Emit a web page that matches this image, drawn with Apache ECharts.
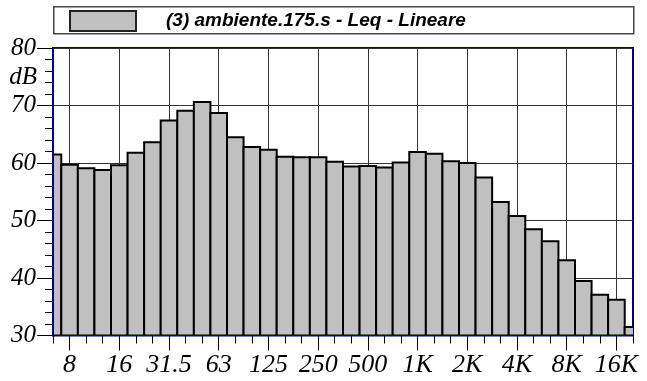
<!DOCTYPE html>
<html>
<head>
<meta charset="utf-8">
<script src="https://cdn.jsdelivr.net/npm/echarts@6/dist/echarts.min.js"></script>
<style>
html,body{margin:0;padding:0;background:#fff;}
#chart{width:647px;height:381px;}
</style>
</head>
<body>
<div id="chart"></div>
<script>
// Third-octave band centres (Hz)
var bands = ['6.3','8','10','12.5','16','20','25','31.5','40','50','63','80','100','125','160','200','250','315','400','500','630','800','1K','1.25K','1.6K','2K','2.5K','3.15K','4K','5K','6.3K','8K','10K','12.5K','16K','20K'];
// Leq levels (dB) per band
var levels = [61.5, 59.7, 59.1, 58.8, 59.6, 61.8, 63.6, 67.4, 69.1, 70.6, 68.7, 64.5, 62.8, 62.3, 61.1, 61.0, 61.0, 60.2, 59.4, 59.5, 59.2, 60.1, 61.9, 61.6, 60.3, 60.0, 57.5, 53.2, 50.8, 48.5, 46.4, 43.1, 39.5, 37.1, 36.2, 31.5];
// Labelled (octave) bands
var octaveLabels = ['8','16','31.5','63','125','250','500','1K','2K','4K','8K','16K'];
var yTicks = [30, 40, 50, 60, 70, 80];
var seriesName = '(3) ambiente.175.s - Leq - Lineare';

var yMin = yTicks[0], yMax = yTicks[yTicks.length - 1];
function isOctave(idx) { return octaveLabels.indexOf(bands[idx]) >= 0; }

var chart = echarts.init(document.getElementById('chart'), null, {renderer: 'canvas'});
var gridRect = {left: 53, right: 14, top: 48, bottom: 45.5};
var serif = 'Times New Roman';

chart.setOption({
  animation: false,
  backgroundColor: '#fff',
  grid: [
    Object.assign({show: true, borderColor: '#000080', borderWidth: 2, backgroundColor: 'transparent'}, gridRect),
    Object.assign({show: false}, gridRect)
  ],
  legend: {
    left: 69, top: 10, padding: 0,
    itemWidth: 66, itemHeight: 20,
    data: [{name: seriesName, icon: 'rect', itemStyle: {color: '#c0c0c0', borderColor: '#222', borderWidth: 2}}],
    textStyle: {fontFamily: 'Liberation Sans', fontWeight: 'bold', fontStyle: 'italic', fontSize: 19, color: '#000', padding: [0, 0, 0, 25]}
  },
  graphic: [
    {type: 'rect', left: 53, top: 6, z: -1, shape: {width: 580, height: 27}, style: {fill: '#fff', stroke: '#444', lineWidth: 1.5}},
    {type: 'text', right: 647 - 37, top: 65, style: {text: 'dB', font: 'italic 25px "Times New Roman"', fill: '#000'}}
  ],
  xAxis: [
    {
      gridIndex: 0, type: 'category', data: bands, boundaryGap: false,
      axisLine: {show: false},
      axisTick: {show: true, interval: function (i) { return isOctave(i); }, length: 15, lineStyle: {color: '#000', width: 1}},
      axisLabel: {show: true, interval: function (i) { return isOctave(i); }, margin: 17,
        fontFamily: serif, fontStyle: 'italic', fontSize: 26, color: '#000'},
      splitLine: {show: true, interval: function (i) { return isOctave(i); }, lineStyle: {color: '#333', width: 1}}
    },
    {
      gridIndex: 1, type: 'category', data: bands, boundaryGap: false, position: 'bottom', z: 5,
      axisLine: {show: true, lineStyle: {color: '#000080', width: 1}},
      axisTick: {show: true, interval: 0, length: 8, lineStyle: {color: '#000', width: 1}},
      axisLabel: {show: false},
      splitLine: {show: false}
    }
  ],
  yAxis: [
    {
      gridIndex: 0, type: 'value', min: yMin, max: yMax, interval: 10,
      axisLine: {show: false},
      axisTick: {show: true, length: 16, lineStyle: {color: '#000'}},
      minorTick: {show: true, splitNumber: 5, length: 8, lineStyle: {color: '#000'}},
      axisLabel: {margin: 17, fontFamily: serif, fontStyle: 'italic', fontSize: 25, color: '#000'},
      splitLine: {show: true, lineStyle: {color: '#333', width: 1}}
    },
    {
      gridIndex: 1, type: 'value', min: yMin, max: yMax, interval: 10, z: 5,
      axisLine: {show: true, lineStyle: {color: '#000080', width: 2}},
      axisTick: {show: false}, axisLabel: {show: false}, splitLine: {show: false}
    }
  ],
  series: [{
    name: seriesName,
    type: 'custom',
    xAxisIndex: 0, yAxisIndex: 0,
    clip: true,
    itemStyle: {color: '#c0c0c0'},
    data: levels.map(function (v, i) { return [i, v]; }),
    renderItem: function (params, api) {
      var i = api.value(0), v = api.value(1);
      var top = api.coord([i, v]);
      var base = api.coord([i, yMin]);
      var w = api.size([1, 0])[0];
      return {
        type: 'rect',
        shape: {x: top[0] - w / 2, y: top[1], width: w, height: base[1] - top[1]},
        style: {fill: '#c0c0c0', stroke: '#000', lineWidth: 2}
      };
    }
  }]
});
</script>
</body>
</html>
